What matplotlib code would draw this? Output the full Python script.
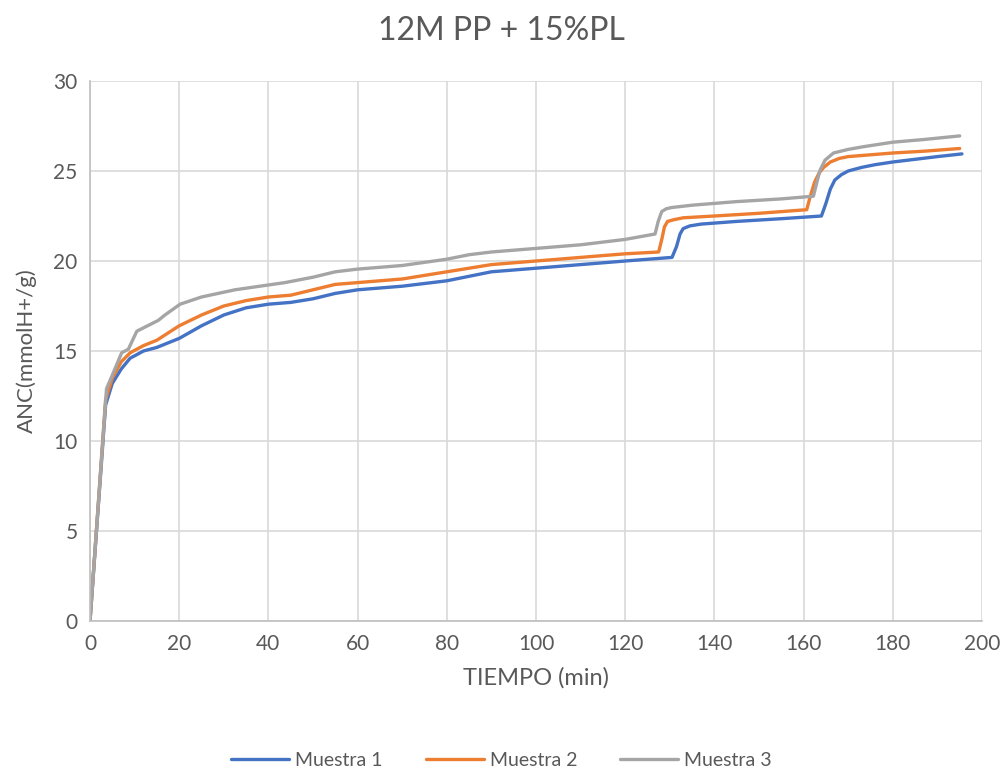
import matplotlib
matplotlib.use("Agg")
import matplotlib.pyplot as plt

plt.rcParams['font.family'] = ['Lato', 'DejaVu Sans']

t1 = [0, 3.5, 5, 7, 9, 12, 15, 20, 25, 30, 35, 40, 45, 50, 55, 60, 70, 80, 90, 100, 110, 120, 130.5,
      131.5, 132.3, 133, 134.5, 137, 145, 155, 164, 165, 166, 167, 168.5, 170, 173, 176, 180, 185, 190, 195.5]
v1 = [0, 12.0, 13.2, 14.0, 14.6, 15.0, 15.2, 15.7, 16.4, 17.0, 17.4, 17.6, 17.7, 17.9, 18.2, 18.4, 18.6, 18.9, 19.4, 19.6, 19.8, 20.0, 20.2,
      20.8, 21.5, 21.8, 21.95, 22.05, 22.2, 22.35, 22.5, 23.2, 24.0, 24.5, 24.8, 25.0, 25.2, 25.35, 25.5, 25.65, 25.8, 25.95]

t2 = [0, 3.5, 5, 7, 9, 12, 15, 20, 25, 30, 35, 40, 45, 50, 55, 60, 70, 80, 90, 100, 110, 120, 127.5,
      128.2, 128.8, 129.5, 131, 133, 140, 150, 160.7, 161.5, 162.5, 163.5, 164.5, 166, 168, 170, 175, 180, 187, 195]
v2 = [0, 12.3, 13.5, 14.4, 14.9, 15.3, 15.6, 16.4, 17.0, 17.5, 17.8, 18.0, 18.1, 18.4, 18.7, 18.8, 19.0, 19.4, 19.8, 20.0, 20.2, 20.4, 20.5,
      21.2, 21.9, 22.2, 22.3, 22.4, 22.5, 22.65, 22.85, 23.6, 24.4, 24.9, 25.2, 25.5, 25.7, 25.8, 25.9, 26.0, 26.1, 26.25]

t3 = [0, 3.7, 4.9, 7.1, 8.6, 10.5, 15.3, 16.8, 20.2, 25, 32.5, 43.7, 50, 55, 60, 70, 80, 85, 90, 100, 110, 120, 126.7,
      127.4, 128.2, 129.2, 130.4, 135, 145, 155, 162.2, 163, 163.7, 164.8, 166.7, 170, 173.4, 180, 187, 195]
v3 = [0, 12.9, 13.6, 14.9, 15.1, 16.1, 16.7, 17.0, 17.6, 18.0, 18.4, 18.8, 19.1, 19.4, 19.55, 19.75, 20.1, 20.35, 20.5, 20.7, 20.9, 21.2, 21.5,
      22.2, 22.75, 22.9, 22.97, 23.1, 23.3, 23.45, 23.6, 24.4, 25.05, 25.6, 26.0, 26.2, 26.35, 26.6, 26.75, 26.95]

series = [("Muestra 1", t1, v1, "#4472C4"),
          ("Muestra 2", t2, v2, "#ED7D31"),
          ("Muestra 3", t3, v3, "#A5A5A5")]

xticks = list(range(0, 201, 20))
yticks = list(range(0, 31, 5))

fig = plt.figure(figsize=(10.03, 7.71), dpi=100)
ax = fig.add_axes([90/1003, 1-621/771, (982-90)/1003, (621-81)/771])

for name, t, v, c in series:
    ax.plot(t, v, color=c, lw=2.4, label=name, solid_capstyle='round', solid_joinstyle='round')

ax.set_xlim(0, 200)
ax.set_ylim(0, 30)
ax.set_xticks(xticks)
ax.set_yticks(yticks)
ax.grid(True, color='#D9D9D9', lw=1.2)
ax.set_axisbelow(True)
for s in ['top', 'right']:
    ax.spines[s].set_visible(False)
for s in ['left', 'bottom']:
    ax.spines[s].set_color('#BFBFBF')
    ax.spines[s].set_linewidth(1.2)
ax.tick_params(length=0, labelsize=15, colors='#595959', pad=9)
ax.set_xlabel("TIEMPO (min)", fontsize=17, color='#595959', labelpad=10)
ax.set_ylabel("ANC(mmolH+/g)", fontsize=16, color='#595959', labelpad=12)
fig.text(0.5, 1-31/771, "12M PP + 15%PL", ha='center', va='center', fontsize=23, color='#595959')
fig.legend(loc='center', bbox_to_anchor=(0.5, 1-760/771), ncol=3, frameon=False,
           fontsize=14, labelcolor='#595959', handlelength=3.0, handletextpad=0.3, columnspacing=2.2)

fig.savefig("out.png", dpi=100)
